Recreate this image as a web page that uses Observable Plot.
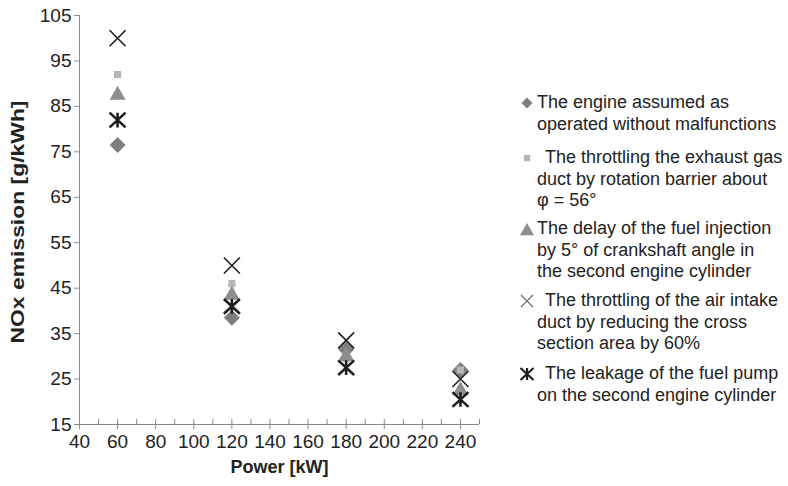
<!DOCTYPE html>
<html>
<head>
<meta charset="utf-8">
<script src="https://cdn.jsdelivr.net/npm/d3@7"></script>
<script src="https://cdn.jsdelivr.net/npm/@observablehq/plot@0.6"></script>
<style>
  html, body { margin: 0; padding: 0; background: #fff; }
  #wrap { position: relative; width: 788px; height: 486px; overflow: hidden;
          font-family: "Liberation Sans", Arial, sans-serif; color: #222; }
  #legend { position: absolute; left: 0; top: 0; }
  .entry { position: absolute; left: 537px; width: 250px; font-size: 18px; line-height: 21.6px; white-space: nowrap; }
  .entry svg { position: absolute; left: -18px; top: 0; overflow: visible; }
</style>
</head>
<body>
<div id="wrap"><div id="chart"></div><div id="legend"></div></div>
<script>
// ---- data ----
const power = [60, 120, 180, 240];
const normalOp = [76.5, 38.5, 31.5, 27];
const exhaustThrottle = [92, 46, 29.5, 27];
const injectionDelay = [88, 44, 30.5, 23];
const airIntakeThrottle = [100, 50, 33.5, 25];
const pumpLeakage = [82, 41, 27.5, 20.5];
const seriesLabels = [
  ["The engine assumed as", "operated without malfunctions"],
  ["The throttling the exhaust gas", "duct by rotation barrier about", "φ = 56°"],
  ["The delay of the fuel injection", "by 5° of crankshaft angle in", "the second engine cylinder"],
  ["The throttling of the air intake", "duct by reducing the cross", "section area by 60%"],
  ["The leakage of the fuel pump", "on the second engine cylinder"]
];
const yTicks = [15, 25, 35, 45, 55, 65, 75, 85, 95, 105];
const xTicks = [40, 60, 80, 100, 120, 140, 160, 180, 200, 220, 240];
const xMinorTicks = [50, 60, 70, 80, 90, 100, 110, 120, 130, 140, 150, 160, 170, 180, 190, 200, 210, 220, 230, 240, 250];

// ---- symbols ----
const rad = s => Math.sqrt(s / Math.PI);
const symDiamond = {draw(c, s){const r=rad(s); c.moveTo(0,-r); c.lineTo(r,0); c.lineTo(0,r); c.lineTo(-r,0); c.closePath();}};
const symSquare = {draw(c, s){const r=rad(s); c.moveTo(-r,-r); c.lineTo(r,-r); c.lineTo(r,r); c.lineTo(-r,r); c.closePath();}};
const symTriangle = {draw(c, s){const r=rad(s); const h=0.875*r; c.moveTo(0,-h); c.lineTo(r,h); c.lineTo(-r,h); c.closePath();}};
const symTimes = {draw(c, s){const r=rad(s); c.moveTo(-r,-r); c.lineTo(r,r); c.moveTo(r,-r); c.lineTo(-r,r);}};
const symStar = {draw(c, s){const r=rad(s); const h=0.92*r; c.moveTo(-r,-h); c.lineTo(r,h); c.moveTo(r,-h); c.lineTo(-r,h); c.moveTo(0,-h); c.lineTo(0,h);}};

const seriesValues = [normalOp, exhaustThrottle, injectionDelay, airIntakeThrottle, pumpLeakage];
const styles = [
  {symbol: symDiamond, r: 8, fill: "#7f7f7f", stroke: "none", sw: 0, lr: 5.5},
  {symbol: symSquare, r: 3.6, fill: "#b5b5b5", stroke: "none", sw: 0, lr: 3.2},
  {symbol: symTriangle, r: 8, fill: "#8e8e8e", stroke: "none", sw: 0, lr: 7},
  {symbol: symTimes, r: 8, fill: "none", stroke: "#1e1e1e", sw: 1.6, lr: 6, lstroke: "#666", lsw: 1.1},
  {symbol: symStar, r: 8, fill: "none", stroke: "#1e1e1e", sw: 2.6, lr: 6.5, lsw: 2.2}
];

const series = seriesValues.map(vals => power.map((p, i) => ({power: p, value: vals[i]})));

const axisGray = "#8a8a8a";
const chart = Plot.plot({
  width: 788,
  height: 486,
  marginLeft: 79,
  marginRight: 309,
  marginTop: 15,
  marginBottom: 62,
  style: {fontFamily: "'Liberation Sans', Arial, sans-serif", fontSize: "19px", color: "#222", background: "#fff"},
  x: {domain: [40, 250]},
  y: {domain: [15, 105]},
  marks: [
    Plot.ruleX([40], {stroke: axisGray}),
    Plot.ruleY([15], {stroke: axisGray}),
    Plot.axisY({ticks: yTicks, tickSize: 5, tickPadding: 3, stroke: axisGray, label: null, fontSize: 19}),
    Plot.axisX({ticks: xTicks, tickSize: 5, tickPadding: 5, stroke: axisGray, label: null, fontSize: 19}),
    Plot.tickX(xMinorTicks, {x: d => d, insetTop: 404, stroke: axisGray}),
    Plot.text(["Power [kW]"], {frameAnchor: "bottom", dy: 43, fontWeight: "bold", fontSize: 18, lineAnchor: "middle", fill: "#222"}),
    Plot.text(["NOx emission [g/kWh]"], {frameAnchor: "left", dx: -61, dy: 2, rotate: -90, textAnchor: "middle", fontWeight: "bold", fontSize: 18, lineAnchor: "middle", fill: "#222", className: "ytitle"}),
    ...series.map((data, k) => Plot.dot(data, {
      x: "power", y: "value", symbol: styles[k].symbol, r: styles[k].r,
      fill: styles[k].fill, stroke: styles[k].stroke, strokeWidth: styles[k].sw
    }))
  ]
});
document.getElementById("chart").appendChild(chart);
// the reference's y title is drawn longer than its font size implies
d3.select(chart).selectAll(".ytitle text").attr("textLength", 243).attr("lengthAdjust", "spacingAndGlyphs");

// ---- legend ----
const tops = [92, 147, 218, 290, 363];
const indents = [0, 8, 0, 8, 8];
const legend = document.getElementById("legend");
seriesLabels.forEach((lines, k) => {
  const st = styles[k];
  const div = document.createElement("div");
  div.className = "entry";
  div.style.top = tops[k] + "px";
  const p = d3.path();
  st.symbol.draw(p, st.lr * st.lr * Math.PI);
  const svg = `<svg width="16" height="22"><path transform="translate(8,11)" d="${p.toString()}" fill="${st.fill}" stroke="${st.lstroke || st.stroke}" stroke-width="${st.lsw || st.sw}"/></svg>`;
  div.innerHTML = svg + lines.map((l, i) => `<div style="padding-left:${i === 0 ? indents[k] : 0}px">${l}</div>`).join("");
  legend.appendChild(div);
});
</script>
</body>
</html>
